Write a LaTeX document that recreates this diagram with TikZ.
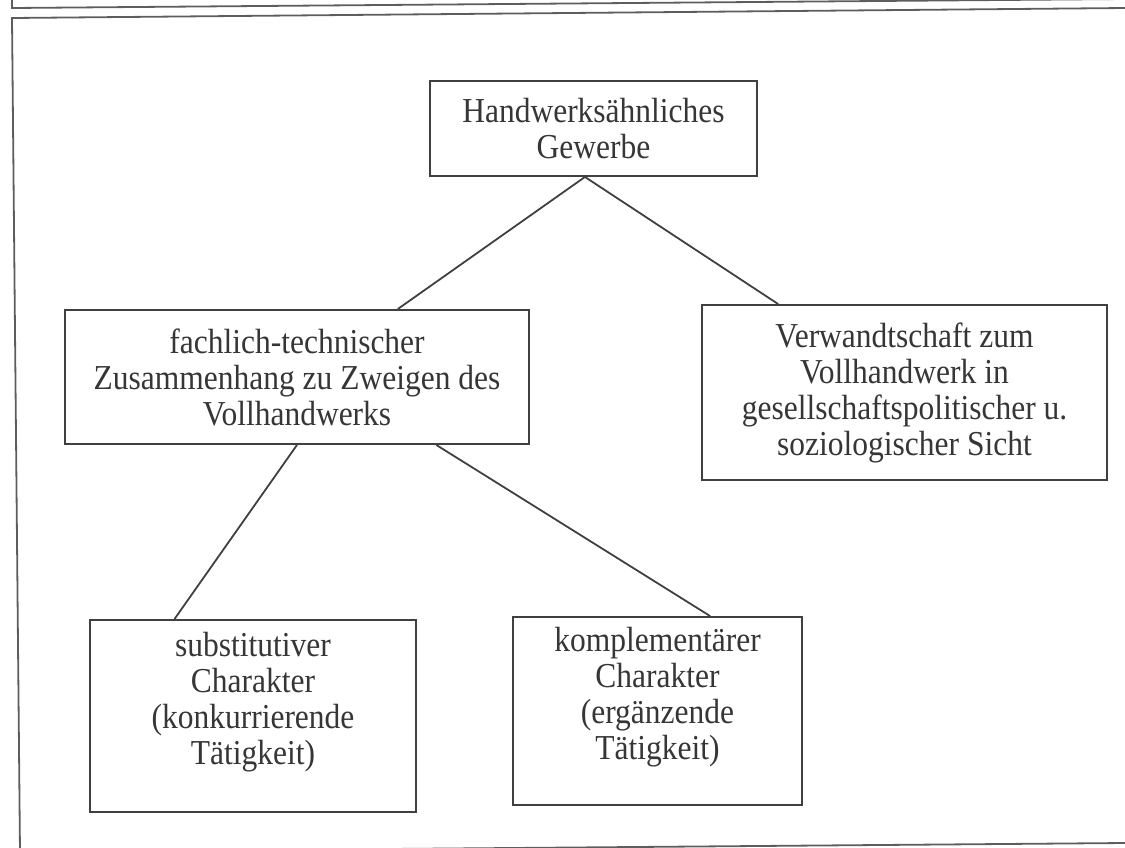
\documentclass[tikz,border=0pt]{standalone}
\usepackage{fontspec}
\setmainfont[FakeStretch=0.9]{Liberation Serif}
\usepackage{tikz}
\definecolor{scanink}{HTML}{363636}
\definecolor{scanline}{HTML}{404040}
\tikzset{
  hwbox/.style  ={rectangle, draw=scanline, line width=1.9pt, fill=white, align=center,
                  inner sep=0pt, text=scanink, font=\fontsize{35}{36}\selectfont},
  hwedge/.style ={draw=scanline, line width=1.8pt},
  hwframe/.style={draw=scanline!85, line width=1.8pt},
}

\begin{document}
\begin{tikzpicture}[x=1pt, y=-1pt]
  \useasboundingbox (0,0) rectangle (1125,847);
  % frame of the page
  \draw[hwframe] (12,0) -- (12,8) -- (1125,-1);
  \draw[hwframe] (1125,8) -- (12,18) -- (20,852) -- (1125,843);
  \node[hwbox, minimum width=327pt, minimum height=95pt]  (hw) at (593.5,128.5) {Handwerksähnliches\\Gewerbe};
  \node[hwbox, minimum width=464pt, minimum height=134pt] (ft) at (297,377) {fachlich-technischer\\Zusammenhang zu Zweigen des\\Vollhandwerks};
  \node[hwbox, minimum width=405pt, minimum height=175pt] (vw) at (904.5,392.5) {Verwandtschaft zum\\Vollhandwerk in\\gesellschaftspolitischer u.\\soziologischer Sicht};
  \node[hwbox, minimum width=326pt, minimum height=192pt] (sub) at (253,716) {substitutiver\\Charakter\\(konkurrierende\\Tätigkeit)\\\mbox{}};
  \node[hwbox, minimum width=289pt, minimum height=188pt] (kom) at (657.5,711) {komplementärer\\Charakter\\(ergänzende\\Tätigkeit)\\\mbox{}};
  \draw[hwedge] (hw.260) -- (ft.34);
  \draw[hwedge] (hw.260) -- (vw.145.5);
  \draw[hwedge] (ft.south) -- (sub.129);
  \draw[hwedge] (ft.334) -- (kom.61);
\end{tikzpicture}
\end{document}
